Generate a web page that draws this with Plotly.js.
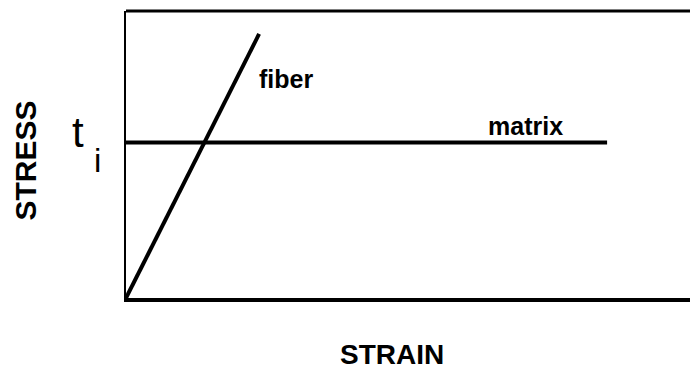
<!DOCTYPE html>
<html>
<head>
<meta charset="utf-8">
<script src="https://cdn.plot.ly/plotly-3.0.1.min.js"></script>
<style>html,body{margin:0;padding:0;background:#fff;}#chart{width:690px;height:370px;}</style>
</head>
<body>
<div id="chart"></div>
<script>
// Schematic stress-strain curves (arbitrary units)
var fiberStrain = [0, 0.236];
var fiberStress = [0, 0.92];
var matrixStrain = [0, 0.853];
var matrixStress = [0.542, 0.542];
var seriesNames = ["fiber", "matrix"];
var xTitle = "STRAIN";
var yTitle = "STRESS";
var levelLabel = "t";
var levelSub = "i";

var PW = 564, PH = 287, L = 126, T = 11;
function px(x){ return (x - L) / PW; }
function py(y){ return (T + PH - y) / PH; }

var traces = [
  {x: fiberStrain, y: fiberStress, mode: "lines", name: seriesNames[0],
   line: {color: "#000", width: 4}, cliponaxis: false, hoverinfo: "skip"},
  {x: matrixStrain, y: matrixStress, mode: "lines", name: seriesNames[1],
   line: {color: "#000", width: 4}, cliponaxis: false, hoverinfo: "skip"}
];

var layout = {
  width: 690, height: 370,
  margin: {l: L, r: 0, t: T, b: 370 - T - PH},
  paper_bgcolor: "#fff", plot_bgcolor: "#fff",
  showlegend: false,
  xaxis: {range: [0, 1], showgrid: false, zeroline: false, showticklabels: false,
          ticks: "", showline: true, linecolor: "#000", linewidth: 4, fixedrange: true},
  yaxis: {range: [0, 1], showgrid: false, zeroline: false, showticklabels: false,
          ticks: "", showline: true, linecolor: "#000", linewidth: 2, fixedrange: true},
  shapes: [
    {type: "line", xref: "paper", yref: "paper", x0: 0, x1: 1, y0: 1, y1: 1,
     line: {color: "#000", width: 3}}
  ],
  annotations: [
    {text: "<b>" + seriesNames[0] + "</b>", x: 0.284, y: 0.763, xref: "x", yref: "y",
     showarrow: false, xanchor: "center", yanchor: "middle",
     font: {family: "Liberation Sans, Arial, sans-serif", size: 25, color: "#000"}},
    {text: "<b>" + seriesNames[1] + "</b>", x: 0.709, y: 0.600, xref: "x", yref: "y",
     showarrow: false, xanchor: "center", yanchor: "middle",
     font: {family: "Liberation Sans, Arial, sans-serif", size: 25, color: "#000"}},
    {text: "<b>" + xTitle + "</b>", x: px(391.5), y: py(354), xref: "paper", yref: "paper",
     showarrow: false, xanchor: "center", yanchor: "middle", borderpad: 0,
     font: {family: "Liberation Sans, Arial, sans-serif", size: 28, color: "#000"}},
    {text: "<b>" + yTitle + "</b>", x: px(25), y: py(160.5), xref: "paper", yref: "paper",
     showarrow: false, xanchor: "center", yanchor: "middle", textangle: -90,
     font: {family: "Liberation Sans, Arial, sans-serif", size: 30, color: "#000"}},
    {text: levelLabel, x: px(77.5), y: py(132), xref: "paper", yref: "paper",
     showarrow: false, xanchor: "center", yanchor: "middle",
     font: {family: "Liberation Sans, Arial, sans-serif", size: 42, color: "#000"}},
    {text: levelSub, x: px(97.5), y: py(160.5), xref: "paper", yref: "paper",
     showarrow: false, xanchor: "center", yanchor: "middle",
     font: {family: "Liberation Sans, Arial, sans-serif", size: 33, color: "#000"}}
  ]
};

Plotly.newPlot("chart", traces, layout, {staticPlot: true, displayModeBar: false});
</script>
</body>
</html>
